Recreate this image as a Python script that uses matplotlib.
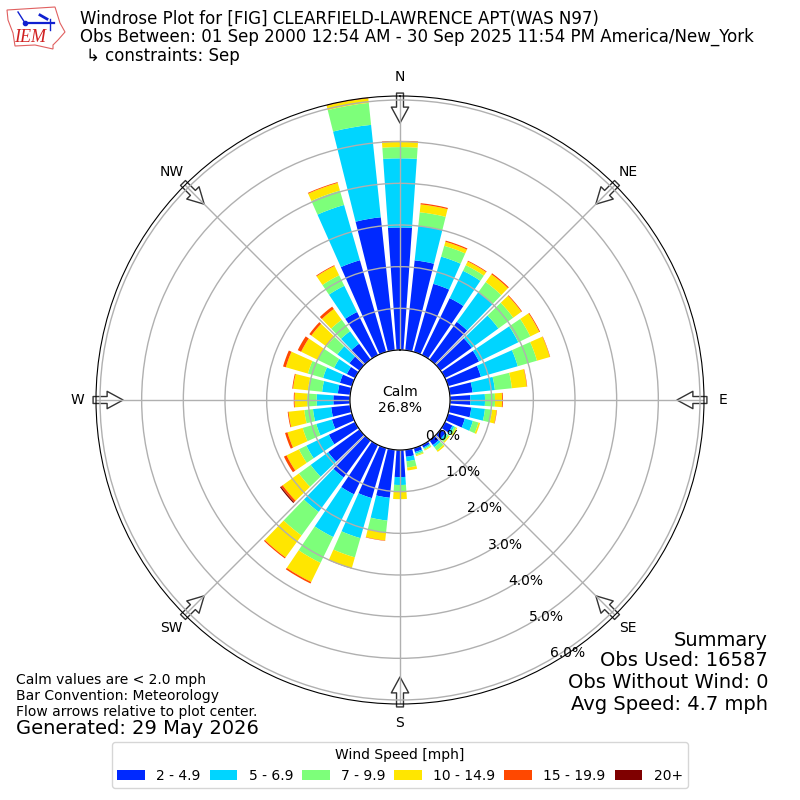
import numpy as np
import matplotlib
matplotlib.use("Agg")
import matplotlib.pyplot as plt
from matplotlib.patches import Patch, Polygon

directions = list(range(0, 360, 10))
speed_labels = ["2 - 4.9", "5 - 6.9", "7 - 9.9", "10 - 14.9", "15 - 19.9", "20+"]
colors = ["#0029ff", "#00d5ff", "#7dff7a", "#ffe600", "#ff4800", "#7f0000"]

blue = [2.94, 2.17, 1.7, 1.52, 1.12, .93, .91, .82, .55, .49, .52, .42, .2, .15, .14, .07, .1, .17,
        .65, 1.16, 1.25, 1.32, 1.1, .93, .7, .5, .46, .4, .3, .3, .22, .3, .47, 1.15, 2.29, 3.21]
cyan = [1.66, .83, .68, .73, .88, .79, 1.05, .92, .54, .35, .33, .2, .05, .05, .06, .03, .04, .11,
        .19, .55, 1.0, 1.14, 1.02, .52, .6, .39, .44, .4, .38, .42, .34, .36, .37, .7, 1.38, 2.23]
green = [.27, .33, .27, .15, .3, .44, .32, .48, .41, .24, .17, .14, .05, .05, .1, .03, .04, .15,
         .16, .29, .48, .69, .7, .35, .2, .34, .21, .23, .34, .38, .44, .32, .34, .28, .36, .53]
yellow = [.13, .19, .1, .1, .23, .24, .24, .32, .36, .17, .11, .04, .03, .03, .04, .02, .02, .07,
          .18, .19, .27, .51, .65, .48, .33, .38, .38, .3, .36, .55, .44, .45, .32, .25, .19, .11]
orange = [.02, .03, .03, .02, .03, .02, .02, .01, .01, .02, .01, 0, 0, 0, 0, 0, 0, 0,
          0, .01, .01, .04, .03, .05, .07, .06, .02, .02, .02, .07, .09, .06, .07, .02, .02, .04]
darkred = [0, 0, 0, 0, 0, 0, 0, 0, 0, 0, 0, 0, 0, 0, 0, 0, 0, 0,
           0, 0, 0, 0, 0, .03, 0, 0, 0, 0, 0, 0, 0, 0, 0, 0, 0, 0]
series = [blue, cyan, green, yellow, orange, darkred]

compass_names = ["N", "NE", "E", "SE", "S", "SW", "W", "NW"]
compass_deg = [0, 45, 90, 135, 180, 225, 270, 315]
ring_values = [0, 1, 2, 3, 4, 5, 6]
ring_labels = ["0.0%", "1.0%", "2.0%", "3.0%", "4.0%", "5.0%", "6.0%"]

fig = plt.figure(figsize=(8, 8), dpi=100)
ax = fig.add_axes([96 / 800, 96 / 800, 608 / 800, 608 / 800], projection="polar")
ax.set_theta_zero_location("N")
ax.set_theta_direction(-1)
RMAX = 6.096
ax.set_rorigin(-1.2)
ax.set_rlim(0, RMAX)

theta = np.deg2rad(directions)
bottom = np.zeros(len(directions))
for vals, c in zip(series, colors):
    vals = np.array(vals)
    ax.bar(theta, vals, width=np.deg2rad(8), bottom=bottom, color=c, linewidth=0)
    bottom += vals

ax.set_rlim(0, RMAX)
ax.set_thetagrids(compass_deg, compass_names)
ax.set_rgrids(ring_values, ring_labels, angle=150)
ax.grid(True, color="#b0b0b0", lw=1)
ax.tick_params(axis="x", pad=3, labelsize=10)
ax.tick_params(axis="y", labelsize=10)

# flow arrows, relative to the plot centre
for d in compass_deg:
    a = np.deg2rad(d)
    ax.annotate("", xy=(a, RMAX - 0.65), xytext=(a, RMAX + 0.07), annotation_clip=False, zorder=1.2,
                arrowprops=dict(width=5, headwidth=12.5, headlength=11.5, facecolor="white",
                                edgecolor="#333333", lw=1, shrink=0))

fig.text(0.5, 0.5, "Calm\n26.8%", ha="center", va="center", fontsize=10, linespacing=1.1)

# titles
fig.text(80 / 800, 1 - 19 / 800, "Windrose Plot for [FIG] CLEARFIELD-LAWRENCE APT(WAS N97)", fontsize=12, va="center")
fig.text(80 / 800, 1 - 37 / 800, "Obs Between: 01 Sep 2000 12:54 AM - 30 Sep 2025 11:54 PM America/New_York", fontsize=12, va="center")
fig.text(86 / 800, 1 - 56 / 800, "↳ constraints: Sep", fontsize=12, va="center")

# notes
for y, s in zip([680, 696, 712], ["Calm values are < 2.0 mph", "Bar Convention: Meteorology", "Flow arrows relative to plot center."]):
    fig.text(16 / 800, 1 - y / 800, s, fontsize=10, va="center")
fig.text(16 / 800, 1 - 729 / 800, "Generated: 29 May 2026", fontsize=14, va="center")
for y, s in zip([640, 661, 683, 705], ["Summary", "Obs Used: 16587", "Obs Without Wind: 0", "Avg Speed: 4.7 mph"]):
    fig.text(768 / 800, 1 - y / 800, s, fontsize=14, va="center", ha="right")

# legend
handles = [Patch(facecolor=c, label=l) for c, l in zip(colors, speed_labels)]
fig.legend(handles=handles, title="Wind Speed [mph]", ncol=6, loc="lower center",
           bbox_to_anchor=(0.5, 1 - 795 / 800), fontsize=10, title_fontsize=10, columnspacing=0.65)

# logo
lax = fig.add_axes([0, 1 - 60 / 800, 70 / 800, 60 / 800])
lax.set_xlim(0, 70)
lax.set_ylim(60, 0)
lax.axis("off")
outline = [(7, 10), (55, 7), (60, 23), (65, 32), (58, 40), (53, 45), (53, 49), (35, 45), (15, 46), (13, 33), (8, 20)]
lax.add_patch(Polygon(outline, closed=True, fill=False, edgecolor="#e06060", lw=0.8))
lax.plot([25, 54], [23, 23], color="#1020d0", lw=1.6)
lax.plot([18, 25], [12, 23], color="#1020d0", lw=1)
lax.plot([40, 47], [15, 19], color="#1020d0", lw=2)
lax.plot([50, 50], [19, 30], color="#1020d0", lw=1)
lax.plot([25], [23], "o", color="#1020d0", ms=3)
lax.text(30, 38, "IEM", color="#d02020", fontsize=13, family="Liberation Serif", style="italic", ha="center", va="center")

fig.savefig("out.png", dpi=100)
